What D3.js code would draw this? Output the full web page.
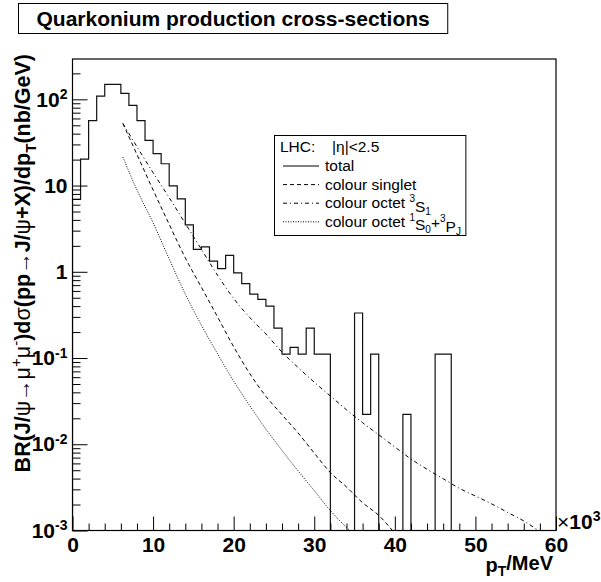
<!DOCTYPE html>
<html>
<head>
<meta charset="utf-8">
<script src="https://cdn.jsdelivr.net/npm/d3@7"></script>
<style>
  body { margin: 0; background: #fff; }
  svg { display: block; font-family: "Liberation Sans", Arial, sans-serif; }
</style>
</head>
<body>
<div id="chart"></div>
<script>
// data (pT in units of 10^3 MeV, cross-sections in nb/GeV)
const titleText = "Quarkonium production cross-sections";
const xTicks = [0, 10, 20, 30, 40, 50, 60];
const yDecades = [1e-3, 1e-2, 1e-1, 1, 10, 100];

// histogram "total", 1 GeV bins from 0 to 60
const totalBins = [6.9, 20.3, 56.5, 109, 149, 149, 117, 85, 56.5, 33.5,
  23.4, 17.9, 9.9, 7.0, 3.5, 1.82, 1.95, 1.33, 1.09, 1.55,
  0.97, 0.73, 0.55, 0.48, 0.40, 0.222, 0.111, 0.133, 0.111, 0.222,
  0.111, 0.111, 0, 0, 0, 0.333, 0.0222, 0.111, 0, 0,
  0, 0.0222, 0, 0, 0, 0.111, 0.111, 0, 0, 0,
  0, 0, 0, 0, 0, 0, 0, 0, 0, 0];

const singletPt = [6.25, 8, 10, 12, 14, 16, 18, 20, 22, 24, 26, 28, 30, 32, 34, 36, 38, 39.7];
const singletVal = [52.5, 22.9, 8.9, 3.55, 1.45, 0.66, 0.30, 0.135, 0.066, 0.036, 0.022, 0.0135, 0.0079, 0.0047, 0.0032, 0.0021, 0.0015, 0.001];

const octet3S1Pt = [6.25, 8, 10, 12, 14, 16, 18, 20, 22, 24, 26, 28, 30, 32, 34, 36, 38, 40, 42, 44, 46, 48, 50, 52, 54, 56, 57.8];
const octet3S1Val = [52.5, 28.2, 14.1, 7.24, 3.63, 1.82, 0.912, 0.49, 0.295, 0.19, 0.117, 0.0776, 0.0525, 0.0363, 0.0251, 0.0178, 0.0129, 0.0093, 0.00676, 0.00513, 0.00398, 0.00309, 0.00251, 0.00204, 0.00162, 0.00129, 0.001];

const octet1S0Pt = [6.25, 8, 10, 12, 14, 16, 18, 20, 22, 24, 26, 28, 30, 32, 34.4];
const octet1S0Val = [21.4, 8.9, 3.7, 1.41, 0.55, 0.24, 0.112, 0.054, 0.028, 0.015, 0.0085, 0.0049, 0.0029, 0.0017, 0.001];

const width = 601, height = 582;
const frame = {left: 72.5, right: 556, top: 59, bottom: 530.5};

const svg = d3.select('#chart').append('svg')
  .attr('width', width)
  .attr('height', height);

const xScale = d3.scaleLinear().domain([0, 60]).range([frame.left, frame.right]);
const yScale = d3.scaleLog().domain([1e-3, 293.5]).range([frame.bottom, frame.top]);
const yv = v => v > 0 ? yScale(Math.max(v, 1e-4)) : frame.bottom + 2;

// title box, sized to its text
const titleG = svg.append('g');
const titleBox = titleG.append('rect')
  .attr('x', 18.5).attr('y', 3.5).attr('height', 30)
  .attr('fill', 'none').attr('stroke', '#000').attr('stroke-width', 1);
const titleLabel = titleG.append('text')
  .attr('x', 36.5).attr('y', 25.5)
  .attr('font-size', 21).attr('font-weight', 'bold')
  .text(titleText);
titleBox.attr('width', titleLabel.node().getComputedTextLength() + 36);

svg.append('clipPath').attr('id', 'plotclip')
  .append('rect')
  .attr('x', frame.left).attr('y', frame.top)
  .attr('width', frame.right - frame.left).attr('height', frame.bottom - frame.top);

const plot = svg.append('g').attr('clip-path', 'url(#plotclip)');

// histogram
const histPts = [[0, 0]].concat(totalBins.map((v, i) => [i, v]));
histPts.push([60, totalBins[59]]);
const histLine = d3.line()
  .x(d => xScale(d[0]))
  .y(d => yv(d[1]))
  .curve(d3.curveStepAfter);
plot.append('path')
  .attr('d', histLine(histPts))
  .attr('fill', 'none').attr('stroke', '#111').attr('stroke-width', 1.2);

// curves
const curveLine = d3.line()
  .x(d => xScale(d[0]))
  .y(d => yScale(d[1]))
  .curve(d3.curveMonotoneX);

const curves = [
  {pt: singletPt, val: singletVal, dash: '4,3'},
  {pt: octet3S1Pt, val: octet3S1Val, dash: '4,3,1,3'},
  {pt: octet1S0Pt, val: octet1S0Val, dash: '1,1.5'}
];
curves.forEach(c => {
  plot.append('path')
    .attr('d', curveLine(c.pt.map((p, i) => [p, c.val[i]])))
    .attr('fill', 'none').attr('stroke', '#000').attr('stroke-width', 1)
    .attr('stroke-dasharray', c.dash);
});

// x axis
const xAxis = d3.axisBottom(xScale)
  .tickValues(xTicks)
  .tickSizeInner(-14).tickSizeOuter(0).tickPadding(7)
  .tickFormat(d3.format('d'));
const xAxisGroup = svg.append('g')
  .attr('class', 'axis x-axis')
  .attr('transform', 'translate(0,' + frame.bottom + ')')
  .call(xAxis);
xAxisGroup.selectAll('text')
  .attr('font-size', 21).attr('font-weight', 'bold')
  .attr('font-family', '"Liberation Sans", Arial, sans-serif').attr('fill', '#000');

const xMinor = d3.range(0, 61, 2).filter(d => d % 10 !== 0);
svg.append('g')
  .attr('transform', 'translate(0,' + frame.bottom + ')')
  .call(d3.axisBottom(xScale).tickValues(xMinor).tickSizeInner(-7).tickSizeOuter(0).tickFormat(''));

// y axis
const yAxis = d3.axisLeft(yScale)
  .tickValues(yDecades)
  .tickSizeInner(-15).tickSizeOuter(0).tickPadding(5)
  .tickFormat('');
const yAxisGroup = svg.append('g')
  .attr('class', 'axis y-axis')
  .attr('transform', 'translate(' + frame.left + ',0)')
  .call(yAxis);
yAxisGroup.selectAll('.tick text').each(function(d) {
  const t = d3.select(this)
    .attr('font-size', 21).attr('font-weight', 'bold')
    .attr('font-family', '"Liberation Sans", Arial, sans-serif').attr('fill', '#000');
  const e = Math.round(Math.log10(d));
  if (e === 0) { t.append('tspan').text('1'); return; }
  if (e === 1) { t.append('tspan').text('10'); return; }
  t.append('tspan').text('10');
  t.append('tspan').attr('font-size', 14).attr('dy', '-0.55em').text(String(e));
});

const yMinor = [];
[-3, -2, -1, 0, 1, 2].forEach(e => {
  for (let k = 2; k <= 9; k++) {
    const v = k * Math.pow(10, e);
    if (v <= 293.5) yMinor.push(v);
  }
});
svg.append('g')
  .attr('transform', 'translate(' + frame.left + ',0)')
  .call(d3.axisLeft(yScale).tickValues(yMinor).tickSizeInner(-8).tickSizeOuter(0).tickFormat(''));

svg.selectAll('.domain').remove();
svg.selectAll('.tick line').attr('stroke', '#000');

// frame
svg.append('rect')
  .attr('x', frame.left).attr('y', frame.top)
  .attr('width', frame.right - frame.left).attr('height', frame.bottom - frame.top)
  .attr('fill', 'none').attr('stroke', '#000').attr('stroke-width', 1.2);

// x10^3
const mult = svg.append('text')
  .attr('x', frame.right + 1).attr('y', frame.bottom - 1.5)
  .attr('font-size', 21).attr('font-weight', 'bold');
mult.append('tspan').attr('font-weight', 'normal').text('\u00d7');
mult.append('tspan').text('10');
mult.append('tspan').attr('font-size', 14).attr('dy', '-0.55em').text('3');

// x title
const xt = svg.append('text')
  .attr('x', frame.right - 3).attr('y', 572)
  .attr('text-anchor', 'end')
  .attr('font-size', 20).attr('font-weight', 'bold');
xt.append('tspan').text('p');
xt.append('tspan').attr('font-size', 14).attr('dy', '0.3em').text('T');
xt.append('tspan').attr('dy', '-0.3em').text('/MeV');

// y title
const yt = svg.append('text')
  .attr('transform', 'translate(30,54) rotate(-90)')
  .attr('text-anchor', 'end')
  .attr('font-size', 21.5).attr('font-weight', 'bold');
const ytParts = [
  ['BR(J/', 0, 0], ['\u03c8', 0, 1], ['\u2192', 0, 1], ['\u03bc', 0, 1], ['+', -1, 1],
  ['\u03bc', 1, 1], ['-', -1, 1], [')d', 1, 0], ['\u03c3', 0, 1], ['(pp', 0, 0],
  ['\u2192', 0, 1], ['J/', 0, 0], ['\u03c8', 0, 1], ['+X)/dp', 0, 0], ['T', 2, 0],
  ['(nb/GeV)', -2, 0]
];
ytParts.forEach(p => {
  const s = yt.append('tspan').text(p[0]);
  if (p[2]) s.attr('font-weight', 'normal');
  if (p[1] === -1) s.attr('font-size', 15).attr('dy', '-0.6em');
  if (p[1] === 1) s.attr('dy', '0.42em');
  if (p[1] === 2) s.attr('font-size', 15).attr('dy', '0.4em');
  if (p[1] === -2) s.attr('dy', '-0.28em');
});

// legend
const legend = svg.append('g');
const legendBox = legend.append('rect')
  .attr('x', 274.5).attr('y', 135.5).attr('height', 100)
  .attr('fill', '#fff').attr('stroke', '#000').attr('stroke-width', 1);
const head = legend.append('text').attr('x', 280).attr('y', 151.5).attr('font-size', 15.5);
head.append('tspan').text('LHC:');
head.append('tspan').attr('x', 332).text('|\u03b7|<2.5');

const legendRows = [
  {label: [['total', 0]], dash: null},
  {label: [['colour singlet', 0]], dash: '4,3'},
  {label: [['colour octet ', 0], ['3', -1], ['S', 1], ['1', 2]], dash: '4,3,1,3'},
  {label: [['colour octet ', 0], ['1', -1], ['S', 1], ['0', 2], ['+', 3], ['3', -1], ['P', 1], ['J', 2]], dash: '1,1.5'}
];
let legendRight = 0;
legendRows.forEach((r, i) => {
  const ly = 166 + i * 18.6;
  const ln = legend.append('line')
    .attr('x1', 283).attr('x2', 319).attr('y1', ly).attr('y2', ly)
    .attr('stroke', '#000').attr('stroke-width', 1);
  if (r.dash) ln.attr('stroke-dasharray', r.dash);
  const t = legend.append('text').attr('x', 325).attr('y', ly + 5).attr('font-size', 15.5);
  r.label.forEach(p => {
    const s = t.append('tspan').text(p[0]);
    if (p[1] === -1) s.attr('font-size', 10).attr('dy', '-0.6em');
    if (p[1] === 1) s.attr('dy', '0.6em');
    if (p[1] === 2) s.attr('font-size', 10).attr('dy', '0.3em');
    if (p[1] === 3) s.attr('dy', '-0.3em');
  });
  const bb = t.node().getBBox();
  legendRight = Math.max(legendRight, bb.x + bb.width);
});
legendBox.attr('width', legendRight + 5 - 274.5);
</script>
</body>
</html>
